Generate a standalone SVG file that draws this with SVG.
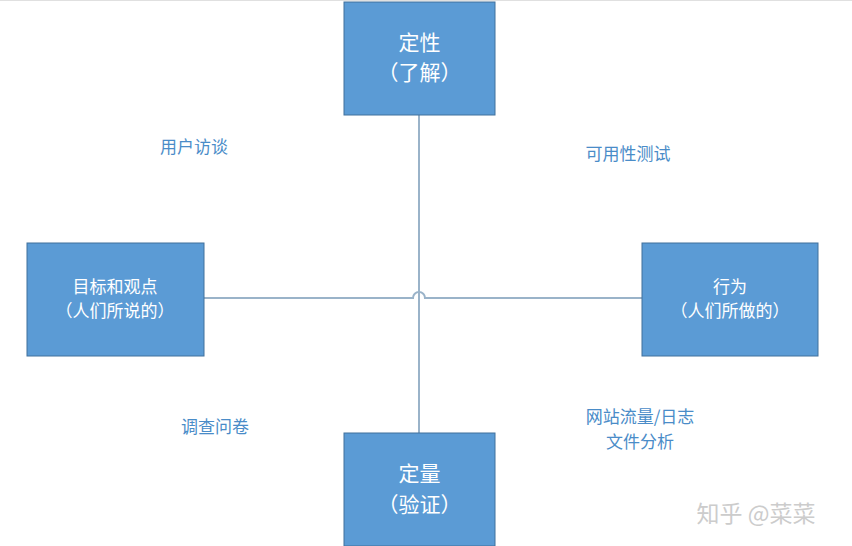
<svg xmlns="http://www.w3.org/2000/svg" width="852" height="546" viewBox="0 0 852 546">
<style>
.box{fill:#5b9bd5;stroke:#41719c;stroke-width:1}
.t{font-family:"Noto Sans CJK SC",sans-serif;fill:#fff;text-anchor:middle}
.l{font-family:"Noto Sans CJK SC",sans-serif;fill:#4a8cc8;font-size:17px;text-anchor:middle}
.c{stroke:#9ab3c9;stroke-width:2;fill:none}
</style>
<rect width="852" height="546" fill="#fff"/>
<line x1="0" y1="0.5" x2="852" y2="0.5" stroke="#e0e0e0"/>
<g id="connectors">
<line class="c" x1="419" y1="115" x2="419" y2="433"/>
<path class="c" d="M204 298 H413 A6 6 0 0 1 425 298 H642"/>
</g>
<g id="top"><rect class="box" x="344" y="2" width="151" height="113"/><text class="t" x="419.5" y="50" font-size="21">定性</text><text class="t" x="419.5" y="80" font-size="21">（了解）</text></g>
<g id="left"><rect class="box" x="27" y="243" width="177" height="113"/><text class="t" x="115" y="293" font-size="17">目标和观点</text><text class="t" x="115" y="317" font-size="17">（人们所说的）</text></g>
<g id="right"><rect class="box" x="642" y="243" width="176" height="113"/><text class="t" x="730" y="293" font-size="17">行为</text><text class="t" x="730" y="317" font-size="17">（人们所做的）</text></g>
<g id="bottom"><rect class="box" x="344" y="433" width="151" height="113"/><text class="t" x="419.5" y="481" font-size="21">定量</text><text class="t" x="419.5" y="512" font-size="21">（验证）</text></g>
<g id="labels">
<text class="l" x="194" y="153">用户访谈</text>
<text class="l" x="628" y="160">可用性测试</text>
<text class="l" x="215" y="433">调查问卷</text>
<text class="l" x="640" y="423">网站流量/日志</text>
<text class="l" x="640" y="448">文件分析</text>
</g>
<text x="756" y="522" font-family="Noto Sans CJK SC,sans-serif" font-size="23" fill="#ccc" text-anchor="middle">知乎 @菜菜</text>
</svg>
